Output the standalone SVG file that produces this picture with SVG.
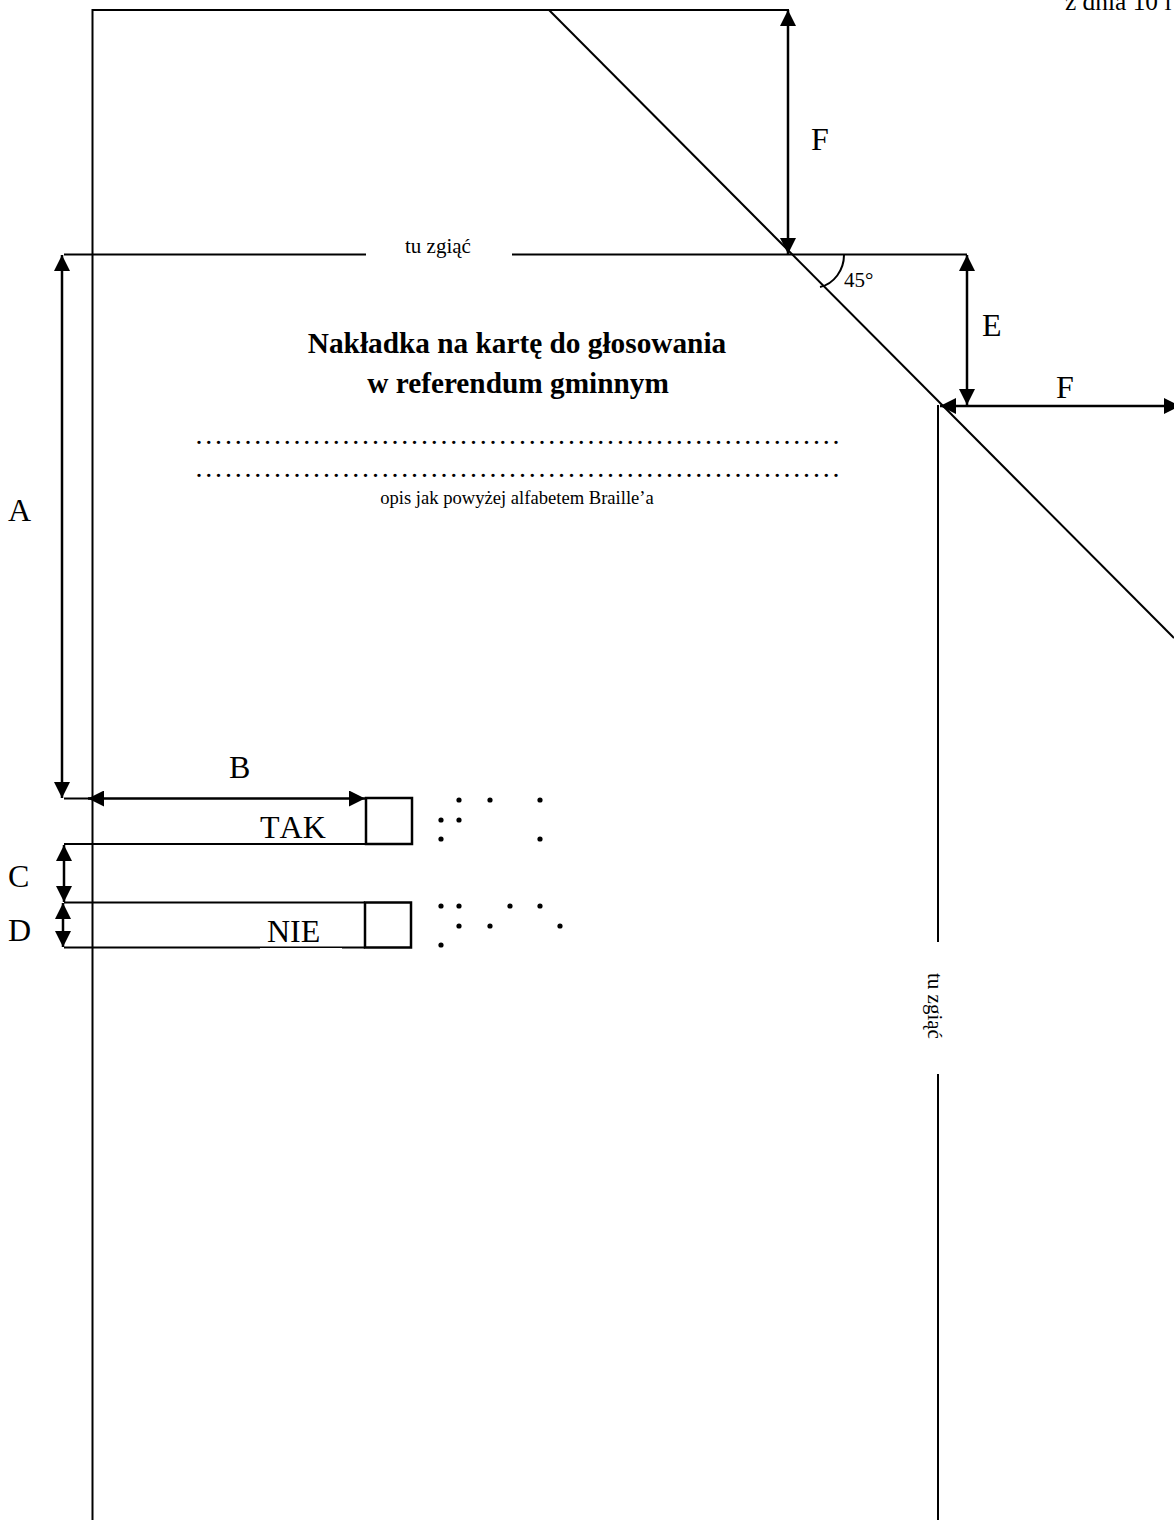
<svg xmlns="http://www.w3.org/2000/svg" width="1174" height="1520" viewBox="0 0 1174 1520">
<style>
text{font-family:"Liberation Serif","Times New Roman",serif;fill:#000}
.l{stroke:#000;stroke-width:2;fill:none}
.b{stroke:#000;stroke-width:2.5;fill:none}
.a{stroke:#000;stroke-width:2.5;fill:none;marker-start:url(#ah);marker-end:url(#ah)}
.lab{font-size:32px}
.sm{font-size:21px}
.t{font-size:29.3px;font-weight:700;text-anchor:middle}
.dots{font-size:28px;letter-spacing:2.8px}
.d{fill:#000}
</style>
<defs>
<marker id="ah" viewBox="0 0 16 16" refX="16" refY="8" markerUnits="userSpaceOnUse" markerWidth="16" markerHeight="16" orient="auto-start-reverse"><path d="M0 0L16 8L0 16Z" fill="#000"/></marker>
</defs>
<rect width="1174" height="1520" fill="#fff"/>
<g id="connectors">
<path class="l" d="M92.5 1520V10H789"/>
<path class="l" d="M549 10L1174 638"/>
<path class="l" d="M64 254.5H366M512 254.5H967"/>
<path class="l" d="M64 798.5H92"/>
<path class="l" d="M938 405V942M938 1074V1520"/>
<path class="l" d="M64 844H366M64 902.5H365M64 947.5H365"/>
<path class="l" d="M844 255C844 270 834 284 820 287"/>
<path class="a" d="M788 10V254"/>
<path class="a" d="M967 255V405"/>
<path class="a" d="M940 406H1180"/>
<path class="a" d="M62 255V798"/>
<path class="a" d="M88 798.5H365"/>
<path class="a" d="M64 845V902"/>
<path class="a" d="M63 903V947"/>
</g>
<g id="box-tak"><rect class="b" x="366" y="798" width="46" height="46"/><text class="lab" x="260" y="838" style="font-kerning:none">TAK</text></g>
<g id="box-nie"><rect x="260" y="948" width="82" height="3" fill="#fff"/><rect class="b" x="365" y="902.5" width="46" height="45"/><text class="lab" x="267" y="942">NIE</text></g>
<g id="braille-tak" class="d"><circle cx="459" cy="800" r="2.6"/><circle cx="490" cy="800" r="2.6"/><circle cx="540" cy="800" r="2.6"/><circle cx="441" cy="820" r="2.6"/><circle cx="459" cy="820" r="2.6"/><circle cx="441" cy="839" r="2.6"/><circle cx="540" cy="839" r="2.6"/></g>
<g id="braille-nie" class="d"><circle cx="441" cy="906" r="2.6"/><circle cx="459" cy="906" r="2.6"/><circle cx="510" cy="906" r="2.6"/><circle cx="540" cy="906" r="2.6"/><circle cx="459" cy="926" r="2.6"/><circle cx="490" cy="926" r="2.6"/><circle cx="560" cy="926" r="2.6"/><circle cx="441" cy="945" r="2.6"/></g>
<g id="labels">
<text x="1065" y="10" font-size="25.4px">z dnia 10 l</text>
<text class="lab" x="811" y="150">F</text>
<text class="lab" x="8" y="521">A</text>
<text class="lab" x="229" y="778">B</text>
<text class="lab" x="8" y="887">C</text>
<text class="lab" x="8" y="941">D</text>
<text class="lab" x="982" y="336">E</text>
<text class="lab" x="1056" y="398">F</text>
<text class="sm" x="844" y="287">45°</text>
<text class="sm" x="405" y="253">tu zgiąć</text>
<text class="t" x="517" y="353">Nakładka na kartę do głosowania</text>
<text class="t" x="518" y="393">w referendum gminnym</text>
<text x="517" y="504" font-size="18.6px" text-anchor="middle">opis jak powyżej alfabetem Braille’a</text>
<text class="dots" x="195.5" y="443.5">..................................................................</text>
<text class="dots" x="195.5" y="477">..................................................................</text>
<text class="sm" transform="translate(928 973) rotate(90)">tu zgiąć</text>
</g>
</svg>
